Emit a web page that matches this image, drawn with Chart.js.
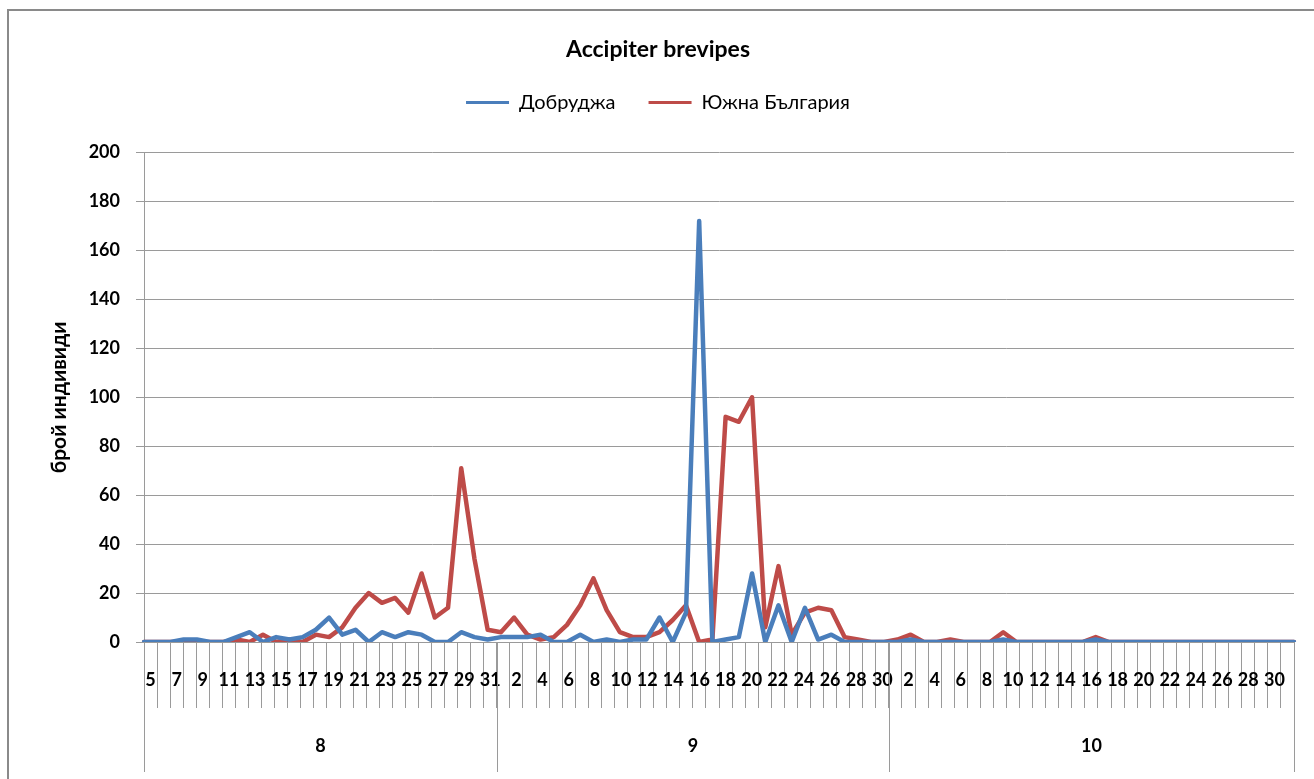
<!DOCTYPE html>
<html>
<head>
<meta charset="utf-8">
<script src="https://cdn.jsdelivr.net/npm/chart.js@4.4.1/dist/chart.umd.min.js"></script>
<style>
  html, body { margin: 0; padding: 0; background: #fff; overflow: hidden; }
  #frame { position: absolute; left: 7px; top: 9px; width: 1400px; height: 900px; border: 2px solid #8a8a8a; }
  #c { position: absolute; left: 0; top: 0; }
</style>
</head>
<body>
<div id="frame"></div>
<canvas id="c" width="1314" height="779"></canvas>
<script>
// ---- data ----
const chartTitle = 'Accipiter brevipes';
const yAxisTitle = 'брой индивиди';
const seriesNames = ['Добруджа', 'Южна България'];
const months = ['8', '9', '10'];
const monthSpans = [27, 30, 31];
const dayLabels = [
  '5','6','7','8','9','10','11','12','13','14','15','16','17','18','19','20','21','22','23','24','25','26','27','28','29','30','31',
  '1','2','3','4','5','6','7','8','9','10','11','12','13','14','15','16','17','18','19','20','21','22','23','24','25','26','27','28','29','30',
  '1','2','3','4','5','6','7','8','9','10','11','12','13','14','15','16','17','18','19','20','21','22','23','24','25','26','27','28','29','30','31'
];
const dobrudzha = [
  0,0,0,1,1,0,0,2,4,0,2,1,2,5,10,3,5,0,4,2,4,3,0,0,4,2,1,
  2,2,2,3,0,0,3,0,1,0,1,1,10,0,12,172,0,1,2,28,0,15,0,14,1,3,0,0,0,0,
  0,1,0,0,0,0,0,0,1,0,0,0,0,0,0,1,0,0,0,0,0,0,0,0,0,0,0,0,0,0,0
];
const yuzhnaBulgaria = [
  0,0,0,0,0,0,0,1,0,3,0,1,0,3,2,6,14,20,16,18,12,28,10,14,71,34,5,
  4,10,3,1,2,7,15,26,13,4,2,2,4,9,15,0,1,92,90,100,6,31,3,12,14,13,2,1,0,0,
  1,3,0,0,1,0,0,0,4,0,0,0,0,0,0,2,0,0,0,0,0,0,0,0,0,0,0,0,0,0,0
];
const yTicks = { min: 0, max: 200, step: 20 };

// ---- style ----
const FAM = 'Lato, Roboto, "Open Sans", sans-serif';
const GRID = '#9a9a9a';
const BLUE = '#4A7EBB';
const RED = '#BE4B48';

const monthRow = {
  id: 'monthRow',
  afterDraw(chart) {
    const xs = chart.scales.x;
    const ctx = chart.ctx;
    const n = dayLabels.length;
    const w = (xs.right - xs.left) / n;
    const bounds = [0];
    let acc = 0;
    monthSpans.forEach(s => { acc += s; bounds.push(acc); });
    ctx.save();
    ctx.strokeStyle = GRID;
    ctx.lineWidth = 1;
    bounds.forEach(b => {
      const px = Math.round(xs.left + b * w) + 0.5;
      ctx.beginPath();
      ctx.moveTo(px, xs.top);
      ctx.lineTo(px, xs.top + 130);
      ctx.stroke();
    });
    ctx.fillStyle = '#000';
    ctx.font = 'bold 18px ' + FAM;
    ctx.textAlign = 'center';
    ctx.textBaseline = 'middle';
    months.forEach((m, k) => {
      const cx = xs.left + (bounds[k] + bounds[k + 1]) / 2 * w;
      ctx.fillText(m, cx, xs.top + 104);
    });
    ctx.restore();
  }
};

new Chart(document.getElementById('c'), {
  type: 'line',
  data: {
    labels: dayLabels,
    datasets: [
      { label: seriesNames[0], data: dobrudzha, borderColor: BLUE, backgroundColor: BLUE, borderWidth: 4.5,
        pointRadius: 0, tension: 0, borderJoinStyle: 'round', borderCapStyle: 'round' },
      { label: seriesNames[1], data: yuzhnaBulgaria, borderColor: RED, backgroundColor: RED, borderWidth: 4.5,
        pointRadius: 0, tension: 0, borderJoinStyle: 'round', borderCapStyle: 'round' }
    ]
  },
  options: {
    responsive: false,
    animation: false,
    layout: { padding: { top: 0, left: 22, right: 20, bottom: 0 } },
    plugins: {
      title: { display: true, text: chartTitle, color: '#000',
        font: { family: FAM, size: 23, weight: 'bold' }, padding: { top: 36, bottom: -4 } },
      legend: { display: true, position: 'top',
        labels: { boxWidth: 43, boxHeight: 3, padding: 33, color: '#000', font: { family: FAM, size: 20 },
          generateLabels(chart) {
            return Chart.defaults.plugins.legend.labels.generateLabels(chart).map(it => {
              it.lineWidth = 0; it.fillStyle = it.strokeStyle; return it;
            });
          } } },
      tooltip: { enabled: false }
    },
    scales: {
      gap: { type: 'category', axis: 'x', position: 'top', labels: dayLabels, display: true,
        grid: { display: false }, border: { display: false }, ticks: { display: false },
        afterFit(s) { s.height = 30; } },
      x: { type: 'category', offset: true,
        grid: { display: true, offset: true, drawOnChartArea: false, drawTicks: true, tickLength: 66, color: GRID, lineWidth: 1 },
        border: { display: true, color: GRID, width: 1 },
        ticks: { autoSkip: false, maxRotation: 0, minRotation: 0, padding: -39, color: '#000',
          font: { family: FAM, size: 18, weight: 'bold' },
          callback: (v, i) => (i % 2 === 0 ? dayLabels[i] : '') },
        afterFit(s) { s.height = 137; } },
      y: { min: yTicks.min, max: yTicks.max,
        ticks: { stepSize: yTicks.step, padding: 16, color: '#000', font: { family: FAM, size: 18, weight: 'bold' } },
        grid: { color: GRID, lineWidth: 1, tickLength: 8, drawTicks: true },
        border: { display: true, color: GRID, width: 1 },
        title: { display: true, text: yAxisTitle, color: '#000', font: { family: FAM, size: 21, weight: 'bold' },
          padding: { top: 25, bottom: 0 } },
        afterFit(s) { s.width = 122; } }
    }
  },
  plugins: [monthRow]
});
</script>
</body>
</html>
